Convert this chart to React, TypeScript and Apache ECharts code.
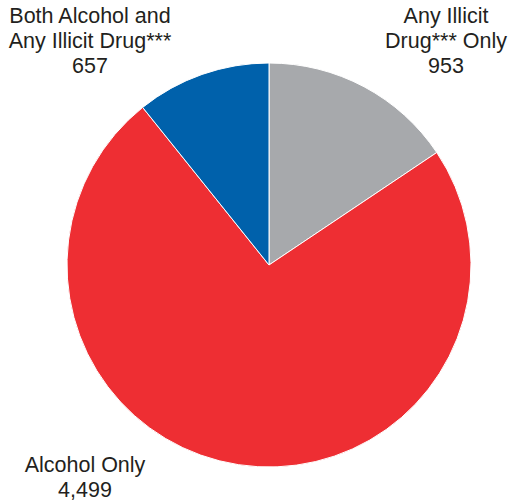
import React, { useEffect, useRef } from "react";
import * as echarts from "echarts";

const categories = ["Any Illicit\nDrug*** Only", "Alcohol Only", "Both Alcohol and\nAny Illicit Drug***"];
const values = [953, 4499, 657];
const valueLabels = ["953", "4,499", "657"];
const colors = ["#a7a9ac", "#ee2e33", "#0061ab"];
const labelPos = [
  [446, 3],
  [85, 452],
  [90, 3],
];

export default function App() {
  const ref = useRef<HTMLDivElement>(null);
  useEffect(() => {
    if (!ref.current) return;
    const chart = echarts.init(ref.current, null, { renderer: "svg" });
    chart.setOption({
      animation: false,
      series: [
        {
          type: "pie",
          center: [269, 265],
          radius: 202,
          startAngle: 90,
          clockwise: true,
          label: { show: false },
          labelLine: { show: false },
          itemStyle: { borderColor: "#ffffff", borderWidth: 1 },
          data: categories.map((c, i) => ({
            name: c,
            value: values[i],
            itemStyle: { color: colors[i] },
          })),
        },
      ],
      graphic: categories.map((c, i) => ({
        type: "text",
        x: labelPos[i][0],
        y: labelPos[i][1],
        style: {
          text: c + "\n" + valueLabels[i],
          fill: "#231f20",
          font: '21.5px "Liberation Sans", Arial, sans-serif',
          align: "center",
          verticalAlign: "top",
          lineHeight: 25,
        },
      })),
    });
    return () => chart.dispose();
  }, []);
  return <div ref={ref} style={{ width: 512, height: 503, position: "absolute", left: 0, top: 0 }} />;
}
